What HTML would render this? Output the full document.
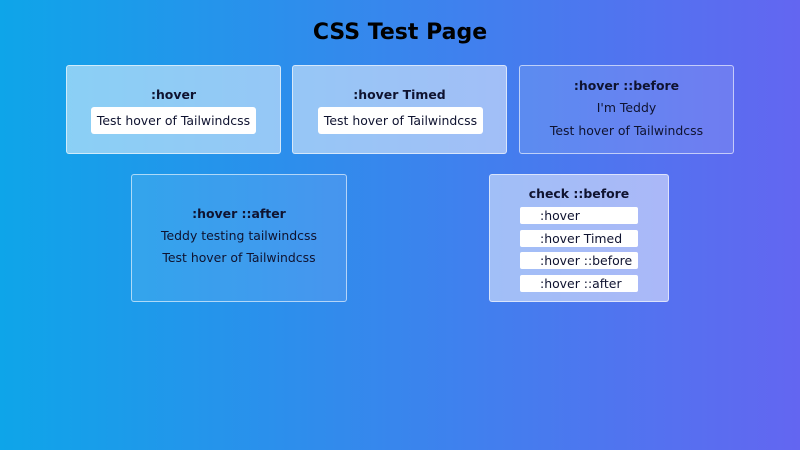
<!DOCTYPE html>
<html><head><meta charset="utf-8"><style>
*{margin:0;padding:0;box-sizing:border-box}
body{width:800px;height:450px;overflow:hidden;background:linear-gradient(90deg,#0ea5e9,#6366f1);font-family:"DejaVu Sans","Liberation Sans",sans-serif;font-size:12.45px;color:#0f1330;position:relative}
.t{position:absolute;left:0;width:800px;top:20px;text-align:center;font-size:22px;font-weight:bold;color:#000}
.box{position:absolute;border:1px solid rgba(255,255,255,.6);border-radius:3px}
.l{position:absolute;left:0;right:0;text-align:center;line-height:16px}
.b{font-weight:bold}
.btn{position:absolute;background:#fff;border-radius:3px;line-height:27px;text-align:center}
.sb{position:absolute;left:30px;width:118px;height:17px;background:#fff;border-radius:2px;line-height:18px;padding-left:20px}
</style></head><body>
<div class="t">CSS Test Page</div>
<div class="box" style="left:66px;top:65px;width:215px;height:89px;background:rgba(255,255,255,.5)">
<div class="l b" style="top:21px">:hover</div>
<div class="btn" style="left:24px;top:41px;width:165px;height:27px">Test hover of Tailwindcss</div>
</div>
<div class="box" style="left:292px;top:65px;width:215px;height:89px;background:rgba(255,255,255,.5)">
<div class="l b" style="top:21px">:hover Timed</div>
<div class="btn" style="left:25px;top:41px;width:165px;height:27px">Test hover of Tailwindcss</div>
</div>
<div class="box" style="left:519px;top:65px;width:215px;height:89px;background:rgba(255,255,255,.12)">
<div class="l b" style="top:12px">:hover ::before</div>
<div class="l" style="top:34px">I'm Teddy</div>
<div class="l" style="top:57px">Test hover of Tailwindcss</div>
</div>
<div class="box" style="left:131px;top:174px;width:216px;height:128px;background:rgba(255,255,255,.1)">
<div class="l b" style="top:31px">:hover ::after</div>
<div class="l" style="top:53px">Teddy testing tailwindcss</div>
<div class="l" style="top:75px">Test hover of Tailwindcss</div>
</div>
<div class="box" style="left:489px;top:174px;width:180px;height:128px;background:rgba(255,255,255,.5)">
<div class="l b" style="top:11px">check ::before</div>
<div class="sb" style="top:32px">:hover</div>
<div class="sb" style="top:55px">:hover Timed</div>
<div class="sb" style="top:77px">:hover ::before</div>
<div class="sb" style="top:100px">:hover ::after</div>
</div>
</body></html>
